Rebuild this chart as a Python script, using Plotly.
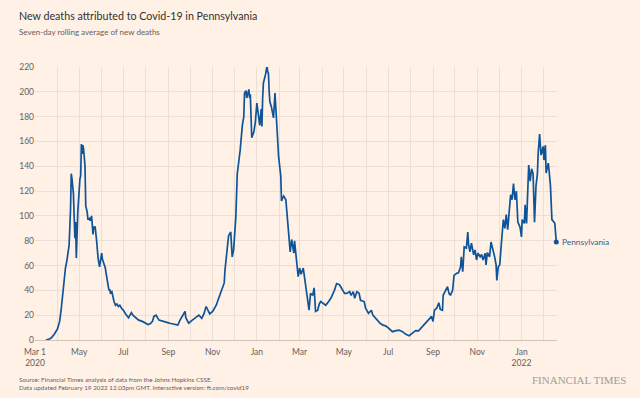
import plotly.graph_objects as go

# ---- data ----
dates = [
    "2020-03-16", "2020-03-20", "2020-03-24", "2020-03-28", "2020-04-01", "2020-04-04", "2020-04-06",
    "2020-04-08", "2020-04-10", "2020-04-12", "2020-04-14", "2020-04-16", "2020-04-17", "2020-04-19",
    "2020-04-20", "2020-04-21", "2020-04-23", "2020-04-24", "2020-04-25", "2020-04-26", "2020-04-27",
    "2020-04-29", "2020-04-30", "2020-05-01", "2020-05-02", "2020-05-03", "2020-05-04", "2020-05-05",
    "2020-05-06", "2020-05-07", "2020-05-09", "2020-05-10", "2020-05-12", "2020-05-13", "2020-05-15",
    "2020-05-16", "2020-05-18", "2020-05-19", "2020-05-20", "2020-05-21", "2020-05-23", "2020-05-25",
    "2020-05-26", "2020-05-27", "2020-05-29", "2020-06-01", "2020-06-02", "2020-06-04", "2020-06-06",
    "2020-06-07", "2020-06-09", "2020-06-11", "2020-06-12", "2020-06-13", "2020-06-15", "2020-06-16",
    "2020-06-18", "2020-06-20", "2020-06-22", "2020-06-24", "2020-06-26", "2020-06-29", "2020-07-01",
    "2020-07-04", "2020-07-06", "2020-07-08", "2020-07-10", "2020-07-12", "2020-07-14", "2020-07-16",
    "2020-07-19", "2020-07-22", "2020-07-27", "2020-07-31", "2020-08-04", "2020-08-07", "2020-08-10",
    "2020-08-12", "2020-08-15", "2020-08-19", "2020-08-23", "2020-08-27", "2020-08-31", "2020-09-03",
    "2020-09-06", "2020-09-11", "2020-09-14", "2020-09-17", "2020-09-21", "2020-09-24", "2020-09-25",
    "2020-09-27", "2020-09-29", "2020-10-04", "2020-10-09", "2020-10-13", "2020-10-17", "2020-10-20",
    "2020-10-23", "2020-10-26", "2020-10-28", "2020-11-01", "2020-11-04", "2020-11-06", "2020-11-09",
    "2020-11-12", "2020-11-14", "2020-11-17", "2020-11-18", "2020-11-19", "2020-11-20", "2020-11-21",
    "2020-11-23", "2020-11-26", "2020-11-27", "2020-11-28", "2020-11-30", "2020-12-03", "2020-12-05",
    "2020-12-07", "2020-12-09", "2020-12-12", "2020-12-14", "2020-12-15", "2020-12-17", "2020-12-18",
    "2020-12-20", "2020-12-21", "2020-12-22", "2020-12-23", "2020-12-24", "2020-12-25", "2020-12-28",
    "2020-12-30", "2021-01-01", "2021-01-03", "2021-01-05", "2021-01-07", "2021-01-08", "2021-01-09",
    "2021-01-10", "2021-01-13", "2021-01-15", "2021-01-16", "2021-01-17", "2021-01-18", "2021-01-19",
    "2021-01-21", "2021-01-23", "2021-01-24", "2021-01-26", "2021-01-29", "2021-01-31", "2021-02-03",
    "2021-02-04", "2021-02-06", "2021-02-07", "2021-02-10", "2021-02-13", "2021-02-16", "2021-02-18",
    "2021-02-21", "2021-02-22", "2021-02-23", "2021-02-25", "2021-02-27", "2021-03-01", "2021-03-03",
    "2021-03-06", "2021-03-08", "2021-03-11", "2021-03-14", "2021-03-16", "2021-03-19", "2021-03-21",
    "2021-03-23", "2021-03-26", "2021-03-28", "2021-03-30", "2021-04-03", "2021-04-06", "2021-04-10",
    "2021-04-13", "2021-04-18", "2021-04-21", "2021-04-25", "2021-04-28", "2021-05-02", "2021-05-05",
    "2021-05-09", "2021-05-11", "2021-05-14", "2021-05-16", "2021-05-19", "2021-05-22", "2021-05-24",
    "2021-05-29", "2021-05-31", "2021-06-04", "2021-06-08", "2021-06-10", "2021-06-13", "2021-06-17",
    "2021-06-20", "2021-06-24", "2021-06-28", "2021-07-02", "2021-07-07", "2021-07-12", "2021-07-16",
    "2021-07-21", "2021-07-25", "2021-07-30", "2021-08-03", "2021-08-08", "2021-08-12", "2021-08-17",
    "2021-08-22", "2021-08-26", "2021-08-30", "2021-09-01", "2021-09-03", "2021-09-06", "2021-09-09",
    "2021-09-11", "2021-09-14", "2021-09-15", "2021-09-18", "2021-09-21", "2021-09-23", "2021-09-25",
    "2021-09-28", "2021-09-30", "2021-10-04", "2021-10-06", "2021-10-09", "2021-10-10", "2021-10-12",
    "2021-10-14", "2021-10-17", "2021-10-19", "2021-10-20", "2021-10-22", "2021-10-24", "2021-10-27",
    "2021-10-29", "2021-10-31", "2021-11-02", "2021-11-05", "2021-11-07", "2021-11-09", "2021-11-12",
    "2021-11-13", "2021-11-15", "2021-11-18", "2021-11-20", "2021-11-22", "2021-11-25", "2021-11-27",
    "2021-11-28", "2021-11-30", "2021-12-02", "2021-12-05", "2021-12-07", "2021-12-09", "2021-12-11",
    "2021-12-13", "2021-12-15", "2021-12-17", "2021-12-19", "2021-12-21", "2021-12-23", "2021-12-25",
    "2021-12-27", "2021-12-30", "2022-01-01", "2022-01-02", "2022-01-05", "2022-01-06", "2022-01-08",
    "2022-01-10", "2022-01-11", "2022-01-13", "2022-01-15", "2022-01-17", "2022-01-19", "2022-01-21",
    "2022-01-23", "2022-01-24", "2022-01-26", "2022-01-28", "2022-01-31", "2022-02-01", "2022-02-03",
    "2022-02-04", "2022-02-07", "2022-02-08", "2022-02-10", "2022-02-12", "2022-02-15", "2022-02-16",
    "2022-02-18",
]

deaths = [
    0, 0.5, 2, 5, 9, 15, 24,
    36, 50, 58, 64, 73, 76, 105,
    134, 130, 118, 100, 82, 95, 66,
    103, 112, 127, 130, 132, 158, 150,
    157, 154, 140, 108, 103, 97, 98,
    96, 100, 93, 85, 91, 91, 80,
    71, 66, 59, 70, 65, 62, 58,
    54, 46, 40, 41, 38, 39, 36,
    31, 28, 29, 27, 28, 25, 24,
    21, 19, 18, 20, 22, 20, 19,
    17, 16, 15, 14, 12.5, 13, 15,
    19, 20, 16, 15.5, 15, 14, 13.5,
    13, 12, 12, 16, 20, 23, 18,
    15, 13.5, 16, 18, 20, 17.5, 21,
    27, 23, 21, 23, 25.5, 28, 33,
    37.6, 40, 46, 56, 62, 72, 76,
    84, 87, 70, 67, 73, 99, 134,
    142, 153, 173, 180, 199, 201, 195,
    200, 202, 195, 198, 180, 163, 168,
    176, 191, 183, 173, 186, 172, 195,
    207, 214, 221, 216, 215, 200, 192,
    188, 183, 179, 199, 167, 148, 132,
    112, 115, 116, 113, 91, 71, 81,
    70, 80, 74, 64, 51, 58, 53,
    58, 50, 37, 24, 37.6, 36, 42,
    23, 24, 29, 31, 29.5, 28, 31,
    33.6, 40, 45.5, 44.5, 41.5, 37.6, 37.5,
    39, 36, 39, 33.6, 39, 37.6, 32,
    31, 25.6, 21.5, 24, 20, 18, 16,
    13.5, 12, 11.3, 9.4, 6.7, 7.5, 8,
    6.7, 4.8, 3.5, 5.4, 7.5, 7.3, 10.7,
    14, 17, 19, 15, 24, 25.6, 30,
    24.7, 24, 36, 40, 43, 37.6, 36,
    40, 52, 54, 54, 59, 67, 55,
    75, 74, 87, 77, 71, 78, 68.6,
    72.6, 64.5, 70, 67, 69, 64.5, 70,
    60.5, 70.4, 67, 79, 75, 67, 60.5,
    48, 59, 60.5, 83, 97, 90, 101,
    89, 107, 117, 113, 126, 113, 120,
    95, 91, 83, 97, 94, 109, 94,
    134, 141, 128, 138, 134, 95, 124,
    134, 150, 166, 149, 156, 145, 157,
    134.5, 142.5, 137, 124, 97, 95, 94,
    79,
]

month_ticks = [
    "2020-03-01", "2020-04-01", "2020-05-01", "2020-06-01", "2020-07-01", "2020-08-01",
    "2020-09-01", "2020-10-01", "2020-11-01", "2020-12-01", "2021-01-01", "2021-02-01",
    "2021-03-01", "2021-04-01", "2021-05-01", "2021-06-01", "2021-07-01", "2021-08-01",
    "2021-09-01", "2021-10-01", "2021-11-01", "2021-12-01", "2022-01-01", "2022-02-01",
]
month_labels = [
    "Mar 1<br>2020", "", "May", "", "Jul", "", "Sep", "", "Nov", "", "Jan", "",
    "Mar", "", "May", "", "Jul", "", "Sep", "", "Nov", "", "Jan<br>2022", "",
]
y_ticks = [0, 20, 40, 60, 80, 100, 120, 140, 160, 180, 200, 220]
series_name = "Pennsylvania"

# ---- style ----
BG = "#fff1e5"
BLUE = "#0f5499"
GRID = "#ebdfd4"
TXT = "#66605c"
FONT = "Lato, 'Open Sans', sans-serif"

fig = go.Figure()
fig.add_trace(go.Scatter(
    x=dates, y=deaths, mode="lines",
    line=dict(color=BLUE, width=1.7),
    cliponaxis=False, hoverinfo="skip", showlegend=False,
))
fig.add_trace(go.Scatter(
    x=[dates[-1]], y=[deaths[-1]], mode="markers",
    marker=dict(color=BLUE, size=5),
    cliponaxis=False, hoverinfo="skip", showlegend=False,
))

# plot-area geometry helpers (paper coordinates)
L, R, T, B = 35, 83, 67, 58
W, H = 640, 398
pw, ph = W - L - R, H - T - B


def px(x):
    return (x - L) / pw


def py(y):
    return (H - B - y) / ph


annotations = [
    dict(text="New deaths attributed to Covid-19 in Pennsylvania", x=px(17), y=py(15),
         xref="paper", yref="paper", xanchor="left", yanchor="middle", showarrow=False,
         font=dict(family=FONT, size=10.7, color="#33302e")),
    dict(text="Seven-day rolling average of new deaths", x=px(17), y=py(32),
         xref="paper", yref="paper", xanchor="left", yanchor="middle", showarrow=False,
         font=dict(family=FONT, size=8, color=TXT)),
    dict(text="Source: Financial Times analysis of data from the Johns Hopkins CSSE.", x=px(17), y=py(379),
         xref="paper", yref="paper", xanchor="left", yanchor="middle", showarrow=False,
         font=dict(family=FONT, size=6.3, color=TXT)),
    dict(text="Data updated February 19 2022 12.03pm GMT. Interactive version: ft.com/covid19", x=px(17), y=py(387),
         xref="paper", yref="paper", xanchor="left", yanchor="middle", showarrow=False,
         font=dict(family=FONT, size=6.3, color=TXT)),
    dict(text="FINANCIAL TIMES", x=px(628), y=py(380),
         xref="paper", yref="paper", xanchor="right", yanchor="middle", showarrow=False,
         font=dict(family="'Liberation Serif', 'DejaVu Serif', serif", size=11, color="#a39c96")),
    dict(text=series_name, x=dates[-1], y=deaths[-1], xref="x", yref="y",
         xanchor="left", yanchor="middle", xshift=4, showarrow=False,
         font=dict(family=FONT, size=8.3, color="#2e5f95")),
]

fig.update_layout(
    width=W, height=H,
    margin=dict(l=L, r=R, t=T, b=B, pad=0),
    paper_bgcolor=BG, plot_bgcolor=BG,
    annotations=annotations,
    xaxis=dict(
        type="date", range=["2020-03-01", "2022-02-19"],
        tickmode="array", tickvals=month_ticks, ticktext=month_labels,
        showgrid=True, gridcolor=GRID, gridwidth=1,
        showline=True, linecolor="#cdc3b9", linewidth=1,
        ticks="", zeroline=False, ticklabelstandoff=4,
        tickfont=dict(family=FONT, size=8.5, color=TXT),
    ),
    yaxis=dict(
        range=[0, 220], tickmode="array", tickvals=y_ticks,
        showgrid=True, gridcolor=GRID, gridwidth=1,
        zeroline=False, showline=False, ticks="",
        tickfont=dict(family=FONT, size=8.5, color=TXT),
    ),
)

fig.write_html(
    "out.html",
    config={"displayModeBar": False},
    post_script="document.body.style.margin='0';document.body.style.overflow='hidden';",
)
